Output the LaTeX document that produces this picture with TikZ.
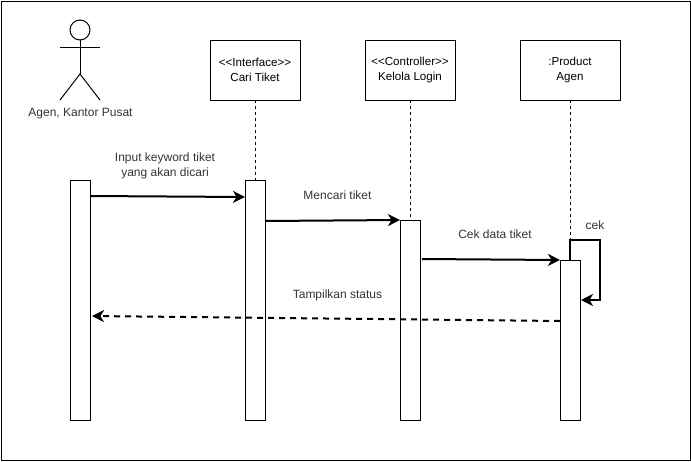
\documentclass[tikz,border=0pt]{standalone}
\usepackage{fontspec}
\setmainfont{Liberation Sans}
\usetikzlibrary{arrows.meta}

\tikzset{
    lifebox/.style={draw, line width=1pt, fill=white, inner sep=0pt, outer sep=0pt, align=center, minimum height=60pt, font=\fontsize{11.6}{15}\selectfont},
    activebar/.style={draw, line width=1pt, fill=white, inner sep=0pt, outer sep=0pt, minimum width=20pt},
    lifeline/.style={line width=0.8pt, dash pattern=on 3pt off 3pt},
    msg/.style={line width=2pt, -{Stealth[length=12pt,width=12pt,inset=3.5pt]}},
    msgback/.style={msg, dash pattern=on 6pt off 5pt},
    limb/.style={line width=1pt},
    txt/.style={inner sep=0pt, align=center, text=black!80}
}

\begin{document}
\begin{tikzpicture}[x=1pt, y=-1pt, font=\fontsize{12}{15}\selectfont]
    \useasboundingbox (0,0) rectangle (691,461);

    % --- Cadre ---
    \node[draw, line width=1pt, inner sep=0pt, outer sep=0pt, minimum width=689pt, minimum height=459pt] (frame) at (345.5,230.5) {};

    % --- Acteur ---
    \node[draw, circle, line width=1pt, minimum size=20pt, inner sep=0pt, outer sep=0pt] (head) at (80,30) {};
    \coordinate (hip) at (80,74);
    \coordinate (armL) at (60,47);
    \coordinate (armR) at (100,47);
    \coordinate (footL) at (60,100);
    \coordinate (footR) at (100,100);
    \draw[limb] (head.south) -- (hip);
    \draw[limb] (armL) -- (armR);
    \draw[limb] (footL) -- (hip) -- (footR);
    \node[txt] (actorLabel) at (80.5,113.5) {Agen, Kantor Pusat};

    % --- Boites ---
    \node[lifebox, minimum width=90pt] (interface) at (255,70) {{<}{<}Interface{>}{>}\\Cari Tiket};
    \node[lifebox, minimum width=90pt] (controller) at (410,70) {{<}{<}Controller{>}{>}\\Kelola Login};
    \node[lifebox, minimum width=100pt] (product) at (570,70) {:Product\\Agen};

    % --- Barres d'activation ---
    \node[activebar, minimum height=240pt] (barActor) at (80,300) {};
    \node[activebar, minimum height=240pt] (barInterface) at (255,300) {};
    \node[activebar, minimum height=200pt] (barController) at (410,320) {};
    \node[activebar, minimum height=160pt] (barProduct) at (570,340) {};

    % --- Lignes de vie ---
    \draw[lifeline] (interface.south) -- (barInterface.north);
    \draw[lifeline] (controller.south) -- (barController.north);
    \draw[lifeline] (product.south) -- (barProduct.north);

    % --- Messages ---
    \draw[msg] ([yshift=-16pt]barActor.north east) -- ([yshift=-17pt]barInterface.north west);
    \draw[msg] ([yshift=-41pt]barInterface.north east) -- (barController.north west);
    \draw[msg] ([xshift=2pt,yshift=-39pt]barController.north east) -- (barProduct.north west);
    \draw[msgback] ([yshift=-61pt]barProduct.north west) -- ([xshift=2pt,yshift=-136pt]barActor.north east);

    % --- Boucle sur le produit ---
    \coordinate (loopA) at (570,240);
    \coordinate (loopB) at (600,240);
    \coordinate (loopC) at (600,300);
    \draw[msg] (barProduct.north) -- (loopA) -- (loopB) -- (loopC) -- ([xshift=1pt,yshift=-40pt]barProduct.north east);

    % --- Textes ---
    \node[txt] (labelInput) at (165,165.5) {Input keyword tiket\\yang akan dicari};
    \node[txt] (labelCari) at (337.5,195) {Mencari tiket};
    \node[txt] (labelCek) at (495,234.5) {Cek data tiket};
    \node[txt] (labelStatus) at (337.5,295) {Tampilkan status};
    \node[txt] (labelLoop) at (595,225) {cek};
\end{tikzpicture}
\end{document}
